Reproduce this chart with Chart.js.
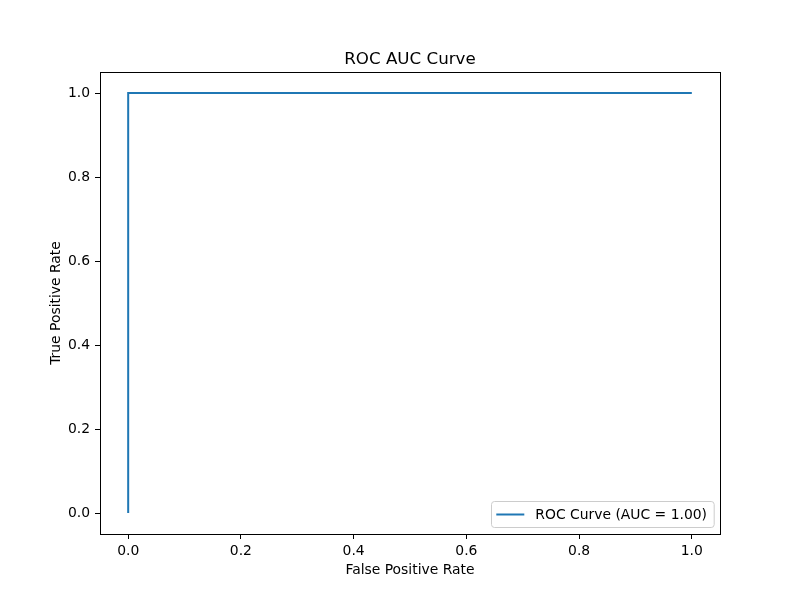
<!DOCTYPE html>
<html>
<head>
<meta charset="utf-8">
<script src="https://cdn.jsdelivr.net/npm/chart.js@4.4.1/dist/chart.umd.min.js"></script>
<style>
  html, body { margin: 0; padding: 0; background: #fff; }
  #wrap { width: 800px; height: 600px; }
</style>
</head>
<body>
<div id="wrap"><canvas id="roc" width="800" height="600"></canvas></div>
<script>
// ROC curve points
const fpr = [0.0, 0.0, 1.0];
const tpr = [0.0, 1.0, 1.0];
const tickValues = [0.0, 0.2, 0.4, 0.6, 0.8, 1.0];
const curveLabel = 'ROC Curve (AUC = 1.00)';
const chartTitle = 'ROC AUC Curve';

const FONT = "'DejaVu Sans', sans-serif";
const BLUE = '#1f77b4';

// frame, title and legend box drawn matplotlib style
const mplLook = {
    id: 'mplLook',
    afterDraw(chart) {
        const ctx = chart.ctx;
        const a = chart.chartArea;
        ctx.save();
        ctx.strokeStyle = '#000';
        ctx.lineWidth = 1;
        ctx.strokeRect(Math.round(a.left) + 0.5, Math.round(a.top) + 0.5,
            Math.round(a.right - a.left), Math.round(a.bottom - a.top));

        // title
        ctx.fillStyle = '#000';
        ctx.font = '16.7px ' + FONT;
        ctx.textAlign = 'center';
        ctx.textBaseline = 'alphabetic';
        ctx.fillText(chartTitle, (a.left + a.right) / 2, a.top - 8);

        // legend, lower right
        ctx.font = '13.9px ' + FONT;
        const tw = ctx.measureText(curveLabel).width;
        const w = tw + 51, h = 26;
        const x = a.right - 6 - w, y = a.bottom - 7 - h;
        ctx.fillStyle = 'rgba(255,255,255,0.8)';
        ctx.strokeStyle = '#cccccc';
        ctx.beginPath();
        ctx.roundRect(Math.round(x) + 0.5, y + 0.5, w, h, 3);
        ctx.fill();
        ctx.stroke();
        ctx.strokeStyle = BLUE;
        ctx.lineWidth = 2;
        ctx.beginPath();
        ctx.moveTo(x + 5, y + h / 2 + 0.5);
        ctx.lineTo(x + 33, y + h / 2 + 0.5);
        ctx.stroke();
        ctx.fillStyle = '#000';
        ctx.textAlign = 'left';
        ctx.textBaseline = 'middle';
        ctx.fillText(curveLabel, x + 44, y + h / 2 + 1);
        ctx.restore();
    }
};

new Chart(document.getElementById('roc').getContext('2d'), {
    type: 'scatter',
    data: {
        datasets: [{
            label: curveLabel,
            data: fpr.map((v, i) => ({ x: v, y: tpr[i] })),
            showLine: true,
            borderColor: BLUE,
            backgroundColor: BLUE,
            borderWidth: 2,
            pointRadius: 0,
            tension: 0
        }]
    },
    options: {
        responsive: false,
        animation: false,
        layout: { padding: { left: 48, right: 80, top: 72, bottom: 21 } },
        plugins: {
            legend: { display: false },
            title: { display: false },
            tooltip: { enabled: false }
        },
        scales: {
            x: {
                type: 'linear',
                min: -0.05,
                max: 1.05,
                afterBuildTicks: s => { s.ticks = tickValues.map(v => ({ value: v })); },
                afterFit: s => { s.height = 45; },
                grid: { drawOnChartArea: false, drawTicks: true, tickLength: 5, color: '#000' },
                border: { display: false },
                ticks: {
                    color: '#000',
                    font: { family: FONT, size: 13.9 },
                    padding: 4,
                    callback: v => v.toFixed(1)
                },
                title: {
                    display: true,
                    text: 'False Positive Rate',
                    color: '#000',
                    font: { family: FONT, size: 13.9 },
                    padding: { top: 2, bottom: 0 }
                }
            },
            y: {
                type: 'linear',
                min: -0.05,
                max: 1.05,
                afterBuildTicks: s => { s.ticks = tickValues.map(v => ({ value: v })); },
                afterFit: s => { s.width = 52; },
                grid: { drawOnChartArea: false, drawTicks: true, tickLength: 5, color: '#000' },
                border: { display: false },
                ticks: {
                    color: '#000',
                    font: { family: FONT, size: 13.9 },
                    padding: 5,
                    callback: v => v.toFixed(1)
                },
                title: {
                    display: true,
                    text: 'True Positive Rate',
                    color: '#000',
                    font: { family: FONT, size: 13.9 },
                    padding: { top: 0, bottom: 0 }
                }
            }
        }
    },
    plugins: [mplLook]
});
</script>
</body>
</html>
